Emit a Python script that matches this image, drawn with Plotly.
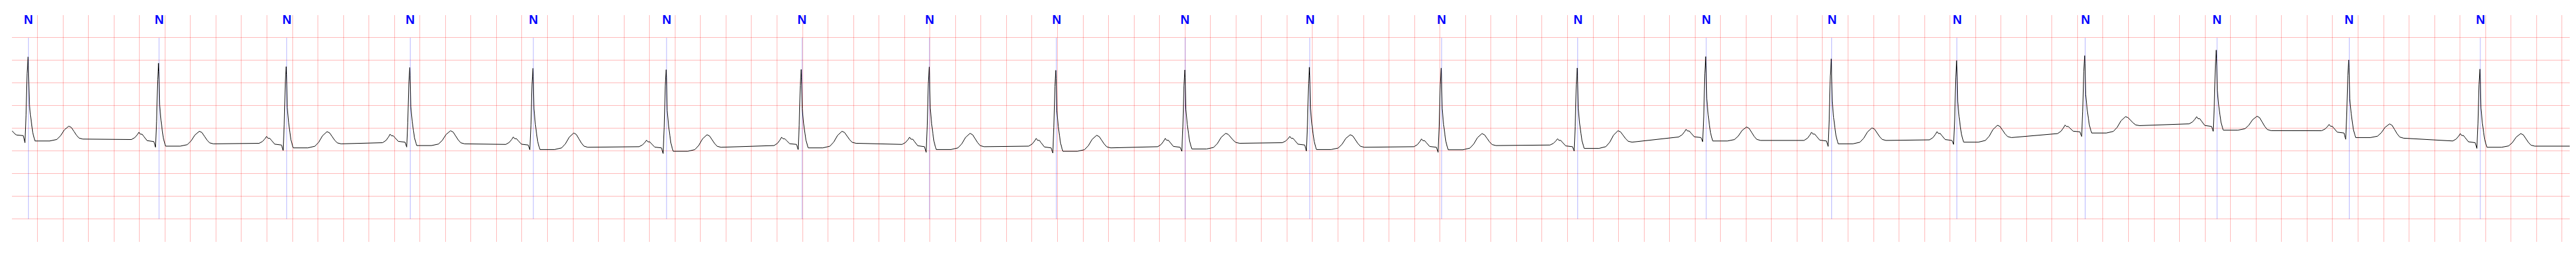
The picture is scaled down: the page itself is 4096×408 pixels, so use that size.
import plotly.graph_objects as go

# ---------------- data ----------------
# R-peak times (s) and per-beat levels (mV-like units)
r_t = [0.126, 1.150, 2.151, 3.120, 4.086, 5.131, 6.190, 7.194, 8.187, 9.199,
       10.176, 11.209, 12.276, 13.284, 14.268, 15.252, 16.256, 17.288, 18.327, 19.356]
r_v = [2.077, 1.939, 1.863, 1.845, 1.825, 1.795, 1.800, 1.858, 1.782, 1.790,
       1.850, 1.833, 1.833, 2.085, 2.034, 1.996, 2.105, 2.228, 2.009, 1.808]
q_v = [0.184, 0.083, 0.013, 0.088, 0.025, -0.055, 0.033, -0.030, -0.043, -0.005,
       0.000, -0.030, 0.000, 0.204, 0.103, 0.146, 0.322, 0.436, 0.259, 0.058]
pr_v = [0.340, 0.209, 0.133, 0.196, 0.133, 0.070, 0.146, 0.096, 0.070, 0.083,
        0.133, 0.083, 0.096, 0.297, 0.222, 0.234, 0.423, 0.543, 0.398, 0.184]
p_v = [0.480, 0.415, 0.322, 0.373, 0.310, 0.239, 0.305, 0.305, 0.279, 0.279,
       0.322, 0.267, 0.272, 0.481, 0.415, 0.428, 0.574, 0.758, 0.587, 0.385]
iso_pre = [0.300, 0.254, 0.170, 0.184, 0.146, 0.096, 0.121, 0.146, 0.108, 0.096,
           0.184, 0.096, 0.133, 0.310, 0.234, 0.247, 0.385, 0.600, 0.448, 0.222]
st_v = [0.222, 0.108, 0.070, 0.121, 0.033, -0.005, 0.070, 0.033, -0.005, 0.045,
        0.033, 0.028, 0.058, 0.222, 0.159, 0.196, 0.398, 0.461, 0.297, 0.083]
t_v = [0.549, 0.436, 0.428, 0.448, 0.398, 0.360, 0.436, 0.390, 0.347, 0.390,
       0.360, 0.385, 0.448, 0.531, 0.511, 0.569, 0.758, 0.768, 0.599, 0.385]
iso_post = [0.264, 0.159, 0.159, 0.159, 0.083, 0.083, 0.171, 0.096, 0.070, 0.171,
            0.083, 0.121, 0.196, 0.234, 0.234, 0.297, 0.561, 0.450, 0.284, 0.108]

# beat annotations
ann_t = [0.1295, 1.1539, 2.1545, 3.1238, 4.0893, 5.1340, 6.197, 7.196, 8.191, 9.201,
         10.179, 11.213, 12.280, 13.288, 14.272, 15.254, 16.260, 17.294, 18.331, 19.359]
ann_label = ["N"] * 20

start_t, start_v = 0.0, 0.448
end_t, end_v = 20.06, 0.108

x_grid = [round(0.2 * k, 1) for k in range(0, 101)]
y_grid = [-2.0, -1.5, -1.0, -0.5, 0.0, 0.5, 1.0, 1.5, 2.0, 2.5]
marker_span = [-1.5, 2.5]

# beat waveform shape read from one beat: (offset s, base, top, fraction)
shape = [
    (-0.213, "iso_pre", "p", 0.00), (-0.186, "iso_pre", "p", 0.27),
    (-0.167, "iso_pre", "p", 0.66), (-0.154, "iso_pre", "p", 1.00),
    (-0.143, "pr", "p", 0.79), (-0.129, "pr", "p", 0.79),
    (-0.116, "pr", "p", 0.55), (-0.101, "pr", "p", 0.24),
    (-0.090, "pr", "p", 0.10), (-0.037, "pr", "p", 0.00),
    (-0.024, "q", "q", 0.00),
    (-0.0156, "pr", "r", 0.26), (-0.0072, "pr", "r", 0.79), (0.0, "pr", "r", 1.00),
    (0.0025, "st", "r", 0.90), (0.008, "st", "r", 0.50), (0.011, "st", "r", 0.43),
    (0.019, "st", "r", 0.31), (0.029, "st", "r", 0.19), (0.037, "st", "r", 0.10),
    (0.049, "st", "r", 0.03), (0.055, "st", "r", 0.00),
    (0.170, "st", "t", 0.00), (0.225, "st", "t", 0.10), (0.255, "st", "t", 0.35),
    (0.285, "st", "t", 0.75), (0.320, "st", "t", 1.00),
    (0.340, "iso_post", "t", 0.90), (0.360, "iso_post", "t", 0.60),
    (0.380, "iso_post", "t", 0.30), (0.400, "iso_post", "t", 0.08),
    (0.430, "iso_post", "t", 0.00),
]

xs, ys = [start_t], [start_v]
for i in range(len(r_t)):
    lv = {"iso_pre": iso_pre[i], "p": p_v[i], "pr": pr_v[i], "q": q_v[i],
          "r": r_v[i], "st": st_v[i], "t": t_v[i], "iso_post": iso_post[i]}
    for off, base, top, f in shape:
        tt = r_t[i] + off
        if tt <= start_t:
            continue
        xs.append(tt)
        ys.append(lv[base] + f * (lv[top] - lv[base]))
xs.append(end_t)
ys.append(end_v)

mx, my = [], []
for t in ann_t:
    mx += [t, t, None]
    my += [marker_span[0], marker_span[1], None]

fig = go.Figure()
fig.add_trace(go.Scatter(x=mx, y=my, mode="lines",
                         line=dict(color="rgba(0,0,255,0.5)", width=0.6),
                         hoverinfo="skip", showlegend=False))
fig.add_trace(go.Scatter(x=xs, y=ys, mode="lines",
                         line=dict(color="black", width=1.0),
                         showlegend=False))

for t, lab in zip(ann_t, ann_label):
    fig.add_annotation(x=t, y=2.9, xref="x", yref="y", text="<b>%s</b>" % lab,
                       showarrow=False, xanchor="center", yanchor="middle",
                       font=dict(family="Liberation Sans, Arial, sans-serif",
                                 size=20, color="#0000FF"))

grid_col = "rgba(255,0,0,0.28)"
fig.update_xaxes(range=[0, end_t], tickvals=x_grid, showticklabels=False,
                 ticks="", showgrid=True, gridcolor=grid_col,
                 gridwidth=0.85, zeroline=False, showline=False)
fig.update_yaxes(range=[-2.005, 3.0], tickvals=y_grid, showticklabels=False,
                 ticks="", showgrid=True, gridcolor=grid_col,
                 gridwidth=0.85, zeroline=False, showline=False)
fig.update_layout(width=4096, height=408, autosize=False,
                  margin=dict(l=18.5, r=10, t=24, b=24, pad=0),
                  plot_bgcolor="white", paper_bgcolor="white",
                  showlegend=False)

fig.write_html("out.html", config={"displayModeBar": False},
               post_script="document.body.style.margin='0px';")
